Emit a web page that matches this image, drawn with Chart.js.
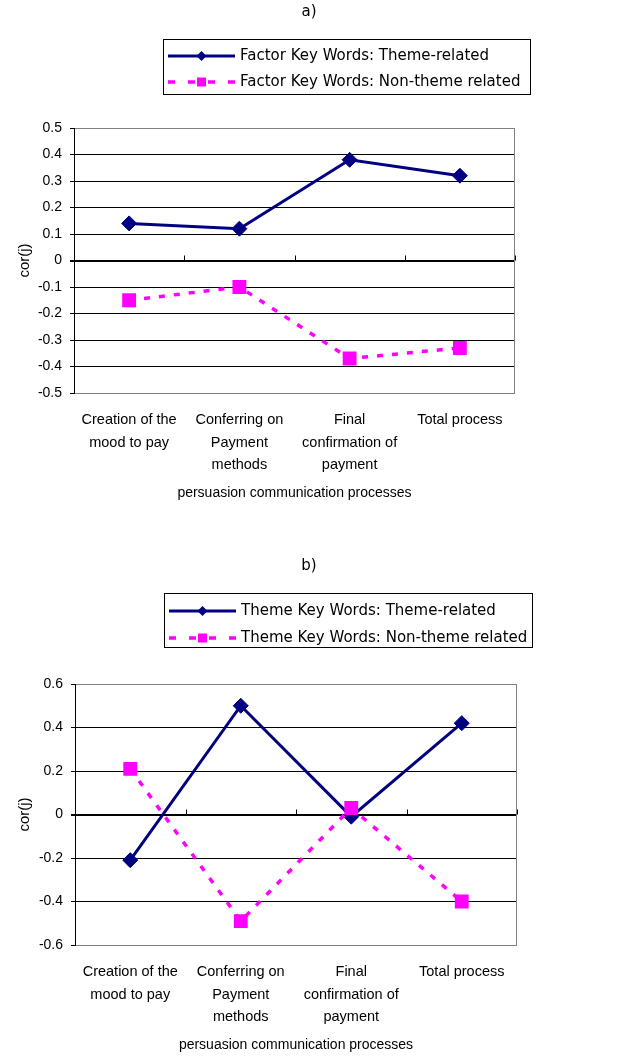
<!DOCTYPE html>
<html><head><meta charset="utf-8">
<script src="https://cdn.jsdelivr.net/npm/chart.js@4"></script>
<style>
html,body{margin:0;padding:0;background:#fff;}
#wrapA{position:absolute;left:0;top:0;width:618px;height:528px;}
#wrapB{position:absolute;left:0;top:528px;width:618px;height:529px;}
canvas{display:block;}
</style></head><body>
<div id="wrapA"><canvas id="chartA" width="618" height="528"></canvas></div>
<div id="wrapB"><canvas id="chartB" width="618" height="529"></canvas></div>
<script>
// ---- data ----
const categories = [["Creation of the","mood to pay"],["Conferring on","Payment","methods"],["Final","confirmation of","payment"],["Total process"]];
const panelTitles = ["a)","b)"];
const xAxisTitle = "persuasion communication processes";
const yAxisTitle = "cor(j)";

const seriesNamesA = ["Factor Key Words: Theme-related","Factor Key Words: Non-theme related"];
const themeRelatedA = [0.14, 0.12, 0.38, 0.32];
const nonThemeA = [-0.15, -0.10, -0.37, -0.33];
const yRangeA = [-0.5, 0.5];
const yStepA = 0.1;

const seriesNamesB = ["Theme Key Words: Theme-related","Theme Key Words: Non-theme related"];
const themeRelatedB = [-0.21, 0.50, -0.01, 0.42];
const nonThemeB = [0.21, -0.49, 0.03, -0.40];
const yRangeB = [-0.6, 0.6];
const yStepB = 0.2;

// ---- styling ----
const NAVY = '#000080', MAGENTA = '#FF00FF', GRAY = '#808080';
const SANS = '"Liberation Sans", Arial, sans-serif';
const LEG = '"DejaVu Sans", sans-serif';

const decorPlugin = {
  id: 'decor',
  beforeDraw(chart) {
    const ctx = chart.ctx;
    ctx.save(); ctx.fillStyle = '#fff'; ctx.fillRect(0, 0, chart.width, chart.height); ctx.restore();
  },
  beforeDatasetsDraw(chart) {
    const {ctx, chartArea: a, scales: {x, y}} = chart;
    ctx.save();
    ctx.strokeStyle = GRAY; ctx.lineWidth = 1;
    ctx.beginPath(); ctx.moveTo(a.right - 0.5, a.top); ctx.lineTo(a.right - 0.5, a.bottom); ctx.stroke();
    // small category-boundary ticks on zero line
    const y0 = y.getPixelForValue(0);
    ctx.strokeStyle = '#000';
    for (let i = 1; i <= categories.length; i++) {
      const px = Math.round(x.getPixelForValue(i - 0.5)) + 0.5;
      ctx.beginPath(); ctx.moveTo(px, y0); ctx.lineTo(px, y0 - 5); ctx.stroke();
    }
    ctx.restore();
  },
  afterDraw(chart, args, opts) {
    const ctx = chart.ctx;
    ctx.save();
    ctx.fillStyle = '#000';
    ctx.font = '15px ' + LEG;
    ctx.textAlign = 'center'; ctx.textBaseline = 'middle';
    ctx.fillText(opts.title, chart.width / 2, opts.titleY);
    const b = opts.box;
    ctx.strokeStyle = '#000'; ctx.lineWidth = 1;
    ctx.strokeRect(b.x + 0.5, b.y + 0.5, b.w, b.h);
    chart.data.datasets.forEach((ds, i) => {
      const ry = opts.rows[i];
      ctx.save();
      ctx.strokeStyle = ds.borderColor; ctx.lineWidth = ds.borderWidth;
      ctx.setLineDash(i === 1 ? [7, 13] : []);
      ctx.beginPath(); ctx.moveTo(b.x + 5, ry); ctx.lineTo(b.x + 72, ry); ctx.stroke();
      ctx.setLineDash([]);
      ctx.fillStyle = ds.backgroundColor;
      const cx = b.x + 38.5;
      ctx.beginPath();
      if (ds.pointStyle === 'rectRot') {
        const r = 5;
        ctx.moveTo(cx - r, ry); ctx.lineTo(cx, ry - r); ctx.lineTo(cx + r, ry); ctx.lineTo(cx, ry + r); ctx.closePath();
      } else {
        const s = 4.5;
        ctx.rect(cx - s, ry - s, 2 * s, 2 * s);
      }
      ctx.fill();
      ctx.restore();
      ctx.fillStyle = '#000';
      ctx.font = '15px ' + LEG;
      ctx.textAlign = 'left'; ctx.textBaseline = 'middle';
      ctx.fillText(ds.label, b.x + 77, ry);
    });
    ctx.restore();
  }
};

function makeChart(id, names, s1, s2, range, step, geom) {
  const [ymin, ymax] = range;
  const isEnd = v => Math.abs(v - ymin) < 1e-9 || Math.abs(v - ymax) < 1e-9;
  return new Chart(document.getElementById(id), {
    type: 'line',
    data: {
      labels: categories,
      datasets: [
        {label: names[0], data: s1, borderColor: NAVY, backgroundColor: NAVY, borderWidth: 3,
         pointStyle: 'rectRot', pointRadius: 7.5, pointHoverRadius: 7.5, pointBorderWidth: 1,
         tension: 0, fill: false, order: 1},
        {label: names[1], data: s2, borderColor: MAGENTA, backgroundColor: MAGENTA, borderWidth: 3.5,
         borderDash: [6, 9], pointStyle: 'rect', pointRadius: 9.8, pointHoverRadius: 9.8, pointBorderWidth: 0,
         tension: 0, fill: false, order: 0}
      ]
    },
    options: {
      responsive: false, animation: false,
      events: [],
      layout: {padding: {top: geom.top, right: geom.right, left: 0, bottom: 0}},
      plugins: {
        legend: {display: false}, tooltip: {enabled: false}, title: {display: false},
        decor: {title: geom.title, titleY: geom.titleY, box: geom.box, rows: geom.rows}
      },
      scales: {
        x: {
          type: 'category', offset: true,
          grid: {display: false, drawTicks: false, tickLength: 0},
          border: {display: false},
          ticks: {font: {family: SANS, size: 14.5, lineHeight: 1.55}, color: '#000', padding: geom.xPad,
                  maxRotation: 0, minRotation: 0, autoSkip: false},
          title: {display: true, text: xAxisTitle, color: '#000', font: {family: SANS, size: 14, lineHeight: 1.2},
                  padding: {top: 0, bottom: geom.xTitlePad}},
          afterFit(s) { s.height = geom.xHeight; }
        },
        y: {
          min: ymin, max: ymax,
          ticks: {stepSize: step, color: '#000', font: {family: SANS, size: 14}, padding: 8,
                  callback: v => String(Math.round(v * 10) / 10)},
          grid: {
            color: c => isEnd(c.tick.value) ? GRAY : '#000',
            lineWidth: c => Math.abs(c.tick.value) < 1e-9 ? 2 : 1,
            tickColor: '#000', tickLength: 4, drawTicks: true
          },
          border: {color: '#000', width: 1},
          title: {display: true, text: yAxisTitle, color: '#000', font: {family: SANS, size: 15, lineHeight: 1.2},
                  padding: {top: 16, bottom: 0}},
          afterFit(s) { s.width = geom.yWidth; }
        }
      }
    },
    plugins: [decorPlugin]
  });
}

makeChart('chartA', seriesNamesA, themeRelatedA, nonThemeA, yRangeA, yStepA, {
  top: 128, right: 103, yWidth: 74, xHeight: 135, xPad: 16, xTitlePad: 26,
  title: panelTitles[0], titleY: 12, box: {x: 163, y: 39, w: 367, h: 55}, rows: [56, 82]
});
makeChart('chartB', seriesNamesB, themeRelatedB, nonThemeB, yRangeB, yStepB, {
  top: 156, right: 101, yWidth: 75, xHeight: 112, xPad: 16, xTitlePad: 3,
  title: panelTitles[1], titleY: 38, box: {x: 164, y: 65, w: 368, h: 54}, rows: [83, 110]
});
</script>
</body></html>
